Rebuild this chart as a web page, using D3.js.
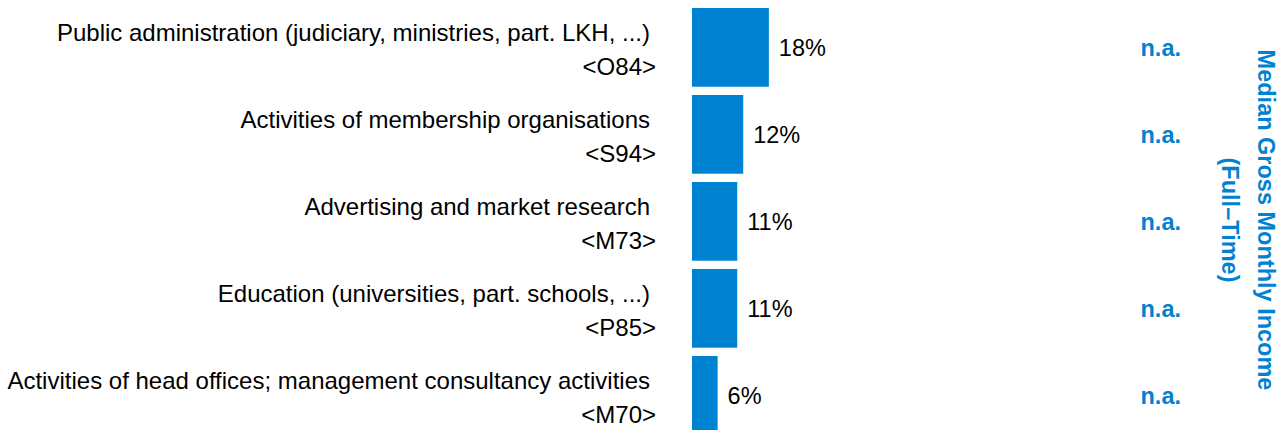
<!DOCTYPE html>
<html>
<head>
<meta charset="utf-8">
<script src="https://cdn.jsdelivr.net/npm/d3@7"></script>
<style>
    body { margin: 0; background: #fff; }
    svg { display: block; font-family: "Liberation Sans", Arial, sans-serif; }
</style>
</head>
<body>
<div id="chart"></div>
<script>
// Chart data
const categories = [
    "Public administration (judiciary, ministries, part. LKH, ...)",
    "Activities of membership organisations",
    "Advertising and market research",
    "Education (universities, part. schools, ...)",
    "Activities of head offices; management consultancy activities"
];
const codes = ["<O84>", "<S94>", "<M73>", "<P85>", "<M70>"];
const shares = [18.0, 12.0, 10.6, 10.6, 6.0];
const incomes = ["n.a.", "n.a.", "n.a.", "n.a.", "n.a."];
const incomeTitle = ["Median Gross Monthly Income", "(Full\u2013Time)"];

const blue = "#0082d2";
const width = 1284, height = 430;

let svg = d3.select("#chart")
    .append("svg")
    .attr("width", width)
    .attr("height", height);

// Scales
let y = d3.scaleBand()
    .domain(categories)
    .range([8, 434.7])
    .paddingInner(0.095)
    .paddingOuter(0);

let x = d3.scaleLinear()
    .domain([0, 100])
    .range([692, 1119]);

let rows = svg.selectAll(".row")
    .data(categories)
    .enter()
    .append("g")
    .attr("class", "row");

// Bars
rows.append("rect")
    .attr("x", x(0))
    .attr("y", d => y(d))
    .attr("width", (d, i) => x(shares[i]) - x(0))
    .attr("height", y.bandwidth())
    .attr("fill", blue);

// Category labels (two lines)
rows.append("text")
    .attr("x", 650)
    .attr("y", d => y(d) + y.bandwidth() / 2 - 6)
    .attr("text-anchor", "end")
    .style("font-size", "24px")
    .style("fill", "#000")
    .text(d => d);

rows.append("text")
    .attr("x", 656)
    .attr("y", d => y(d) + y.bandwidth() / 2 + 28)
    .attr("text-anchor", "end")
    .style("font-size", "24px")
    .style("fill", "#000")
    .text((d, i) => codes[i]);

// Percent labels
rows.append("text")
    .attr("x", (d, i) => x(shares[i]) + 10)
    .attr("y", d => y(d) + y.bandwidth() / 2 + 9)
    .style("font-size", "23.5px")
    .style("fill", "#000")
    .text((d, i) => Math.round(shares[i]) + "%");

// Income column
rows.append("text")
    .attr("x", 1181)
    .attr("y", d => y(d) + y.bandwidth() / 2 + 9)
    .attr("text-anchor", "end")
    .style("font-size", "23.5px")
    .style("font-weight", "bold")
    .style("fill", blue)
    .text((d, i) => incomes[i]);

// Rotated column title
let title = svg.append("text")
    .attr("transform", "translate(1258,220) rotate(90)")
    .attr("text-anchor", "middle")
    .style("font-size", "23.5px")
    .style("font-weight", "bold")
    .style("fill", blue);

title.selectAll("tspan")
    .data(incomeTitle)
    .enter()
    .append("tspan")
    .attr("x", 0)
    .attr("dy", (d, i) => i === 0 ? 0 : 36)
    .text(d => d);
</script>
</body>
</html>
